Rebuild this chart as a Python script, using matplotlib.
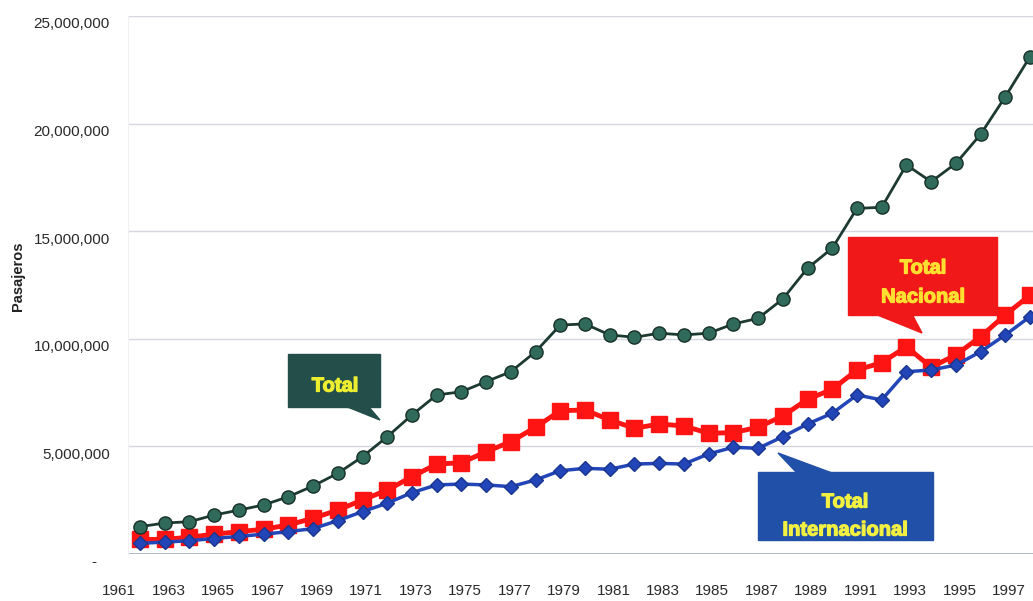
import numpy as np
import matplotlib
matplotlib.use("Agg")
import matplotlib.pyplot as plt
import matplotlib.patheffects as pe
from matplotlib.patches import Polygon
from matplotlib.transforms import ScaledTranslation

plt.rcParams.update({"font.family": "Liberation Sans", "font.size": 11})

years = np.arange(1961, 1998)
total = [1.27, 1.44, 1.50, 1.81, 2.04, 2.28, 2.66, 3.16, 3.75, 4.52,
         5.45, 6.46, 7.39, 7.54, 8.01, 8.47, 9.40, 10.64, 10.69, 10.18,
         10.07, 10.26, 10.18, 10.26, 10.69, 10.95, 11.85, 13.28, 14.21, 16.06,
         16.11, 18.08, 17.30, 18.15, 19.50, 21.25, 23.11]
nacional = [0.68, 0.68, 0.78, 0.92, 1.04, 1.15, 1.35, 1.66, 2.04, 2.51,
            2.97, 3.59, 4.18, 4.24, 4.75, 5.22, 5.89, 6.66, 6.69, 6.23,
            5.84, 6.04, 5.95, 5.61, 5.64, 5.89, 6.41, 7.19, 7.65, 8.55,
            8.89, 9.63, 8.68, 9.25, 10.10, 11.11, 12.03]
internacional = [0.50, 0.55, 0.62, 0.72, 0.82, 0.92, 1.04, 1.18, 1.55, 1.97,
                 2.36, 2.85, 3.21, 3.25, 3.21, 3.13, 3.44, 3.87, 3.98, 3.94,
                 4.18, 4.21, 4.18, 4.65, 4.96, 4.91, 5.45, 6.04, 6.54, 7.39,
                 7.16, 8.47, 8.55, 8.78, 9.40, 10.18, 11.03]
yticks = [0, 5e6, 10e6, 15e6, 20e6, 25e6]
ytick_labels = ["-   ", "5,000,000", "10,000,000", "15,000,000", "20,000,000", "25,000,000"]
xtick_years = list(range(1961, 1998, 2))

W, H = 1033, 601
fig = plt.figure(figsize=(W / 100, H / 100), dpi=100)
ax = fig.add_axes([128 / W, (H - 554) / H, 1 - 128 / W, (554 - 16) / H])

M = 1e6
ax.plot(years, np.array(internacional) * M, "-D", color="#2246b8", lw=2.5, ms=7.5,
        mec="#1a3590", zorder=4)
ax.plot(years, np.array(nacional) * M, "-s", color="#ff1414", lw=3.5, ms=11,
        mec="#ff1414", zorder=3)
ax.plot(years, np.array(total) * M, "-o", color="#1d3a32", lw=2, ms=9.5,
        mfc="#2f6a5a", mec="#183028", zorder=5)

ax.set_xlim(1960.515, 1997.12)
ax.set_ylim(0, 25e6)
ax.set_yticks(yticks)
ax.set_yticklabels(ytick_labels)
ax.set_xticks(xtick_years)
ax.set_xticklabels([str(y) for y in xtick_years])
ax.tick_params(axis="both", length=0, colors="#2a2a2a", labelsize=11)
ax.tick_params(axis="y", pad=13)
ax.tick_params(axis="x", pad=21.5)
for lab in ax.get_xticklabels():
    lab.set_transform(lab.get_transform() + ScaledTranslation(-0.21, 0, fig.dpi_scale_trans))
for lab in ax.get_yticklabels():
    lab.set_transform(lab.get_transform() + ScaledTranslation(0, -0.07, fig.dpi_scale_trans))

for s in ["top", "right", "bottom"]:
    ax.spines[s].set_visible(False)
ax.spines["left"].set_color("#f0f0f0")
for v in yticks[1:]:
    ax.axhline(v, color="#d4d6e0", lw=1, zorder=1)
ax.axhline(0, color="#a4aac0", lw=1.2, zorder=1)

fig.text(18 / W, 1 - 276 / H, "Pasajeros", rotation=90, ha="center", va="center",
         fontsize=10.5, fontweight="bold", color="#222222")


def fp(x, y):
    return (x / W, 1 - y / H)


def callout(box, tail, lines, fc, tc):
    x0, y0, x1, y1 = box
    rect = [fp(x0, y0), fp(x1, y0), fp(x1, y1), fp(x0, y1)]
    fig.patches.append(Polygon(rect, closed=True, transform=fig.transFigure,
                               fc=fc, ec=fc, zorder=6))
    fig.patches.append(Polygon([fp(*p) for p in tail], closed=True,
                               transform=fig.transFigure, fc=fc, ec=fc, zorder=6))
    for (tx, ty), s in lines:
        fig.text(*fp(tx, ty), s, ha="center", va="center", fontsize=14.5,
                 fontweight="bold", color=tc, zorder=7,
                 path_effects=[pe.withStroke(linewidth=0.9, foreground=tc)])


callout((288, 354, 380, 407), [(345, 406), (368, 406), (380, 420)],
        [((335, 386), "Total")], "#244e4a", "#eeee30")
callout((848, 237, 997, 315), [(875, 314), (912, 314), (922, 333)],
        [((923, 268), "Total"), ((923, 297), "Nacional")], "#f01818", "#ffe030")
callout((758, 472, 933, 540), [(797, 473), (832, 473), (778, 453)],
        [((845, 502), "Total"), ((845, 530), "Internacional")], "#2050a8", "#f2f040")

fig.savefig("out.png", dpi=100)
